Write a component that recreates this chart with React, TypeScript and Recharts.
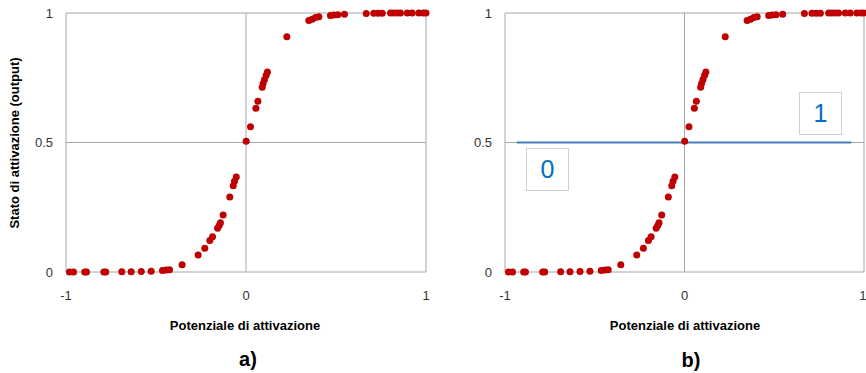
import React from 'react'
import {
  ScatterChart, Scatter, XAxis, YAxis, CartesianGrid, ReferenceLine,
} from 'recharts'

// ── Dati ─────────────────────────────────────────────────────────────────────

// potenziale di attivazione (x) e stato di attivazione (y)
const potenziale = [
  -0.981, -0.958, -0.896, -0.886, -0.79, -0.779, -0.69, -0.638, -0.582, -0.527,
  -0.464, -0.443, -0.425, -0.355, -0.266, -0.229, -0.201, -0.186, -0.158, -0.149,
  -0.142, -0.127, -0.09, -0.071, -0.064, -0.054, 0.001, 0.025, 0.055, 0.066,
  0.09, 0.095, 0.103, 0.112, 0.119, 0.227, 0.349, 0.368, 0.386, 0.405,
  0.469, 0.488, 0.51, 0.547, 0.668, 0.71, 0.734, 0.757, 0.803, 0.821,
  0.84, 0.858, 0.896, 0.923, 0.96, 0.984, 1.0,
]
const stato = [
  0.0, 0.0, 0.0, 0.0, 0.0, 0.0, 0.001, 0.001, 0.002, 0.003,
  0.006, 0.008, 0.009, 0.028, 0.066, 0.092, 0.122, 0.136, 0.169, 0.18,
  0.19, 0.22, 0.29, 0.333, 0.35, 0.367, 0.505, 0.561, 0.632, 0.659,
  0.713, 0.728, 0.743, 0.76, 0.772, 0.908, 0.971, 0.976, 0.983, 0.986,
  0.99, 0.992, 0.993, 0.995, 0.998, 0.999, 0.999, 0.999, 1, 1,
  1, 1, 1, 1, 1, 1, 1,
]

// soglia (grafico b)
const sogliaX = [-0.934, 0.929]
const sogliaY = 0.5

const xTicks = [-1, 0, 1]
const yTicks = [0, 0.5, 1]

const points = potenziale.map((x, i) => ({ x, y: stato[i] }))

const RED = '#C00000'
const GRID = '#a6a6a6'
const BLUE_LINE = '#4a7ebb'
const BLUE_TEXT = '#0070c0'
const FONT = '"Liberation Sans", Arial, sans-serif'

// ── Componenti ───────────────────────────────────────────────────────────────

const Dot = (props: any) => (
  <circle cx={props.cx} cy={props.cy} r={3.5} fill={RED} />
)

function Sigmoid({ width, right, soglia }: { width: number; right: number; soglia?: boolean }) {
  return (
    <ScatterChart width={width} height={320} margin={{ top: 13, right, bottom: 20, left: 0 }}>
      <CartesianGrid stroke={GRID} strokeWidth={1} />
      <XAxis
        type="number" dataKey="x" domain={[-1, 1]} ticks={xTicks}
        height={28} tickSize={0} tickMargin={19}
        axisLine={false} tickLine={false}
        tick={{ fontSize: 13, fill: '#333', fontFamily: FONT }}
      />
      <YAxis
        type="number" dataKey="y" domain={[0, 1]} ticks={yTicks}
        width={66} tickSize={0} tickMargin={13}
        axisLine={false} tickLine={false}
        tick={{ fontSize: 13, fill: '#333', fontFamily: FONT }}
      />
      {soglia && (
        <ReferenceLine
          segment={[{ x: sogliaX[0], y: sogliaY }, { x: sogliaX[1], y: sogliaY }]}
          stroke={BLUE_LINE} strokeWidth={2}
        />
      )}
      <Scatter data={points} shape={Dot} isAnimationActive={false} />
    </ScatterChart>
  )
}

const boxStyle: React.CSSProperties = {
  position: 'absolute', width: 41, height: 41, border: '1px solid #d0d0d0',
  color: BLUE_TEXT, fontSize: 25, lineHeight: '41px', textAlign: 'center',
  background: '#fff',
}

const titleStyle: React.CSSProperties = {
  position: 'absolute', transform: 'translate(-50%, -50%)', whiteSpace: 'nowrap',
  fontWeight: 'bold', fontSize: 13, color: '#000',
}

export default function App() {
  return (
    <div style={{
      position: 'absolute', left: 0, top: 0, width: 866, height: 373,
      background: '#fff', fontFamily: FONT, overflow: 'hidden',
    }}>
      <div style={{ position: 'absolute', left: 0, top: 0 }}>
        <Sigmoid width={440} right={14} />
      </div>
      <div style={{ position: 'absolute', left: 439, top: 0 }}>
        <Sigmoid width={427} right={2} soglia />
      </div>

      <div style={{ ...titleStyle, left: 14, top: 143, transform: 'translate(-50%, -50%) rotate(-90deg)' }}>
        Stato di attivazione (output)
      </div>
      <div style={{ ...titleStyle, left: 245, top: 325 }}>Potenziale di attivazione</div>
      <div style={{ ...titleStyle, left: 685, top: 325 }}>Potenziale di attivazione</div>
      <div style={{ ...titleStyle, left: 248, top: 359, fontSize: 20 }}>a)</div>
      <div style={{ ...titleStyle, left: 691, top: 360, fontSize: 20 }}>b)</div>

      <div style={{ ...boxStyle, left: 526, top: 148 }}>0</div>
      <div style={{ ...boxStyle, left: 799, top: 92 }}>1</div>
    </div>
  )
}
